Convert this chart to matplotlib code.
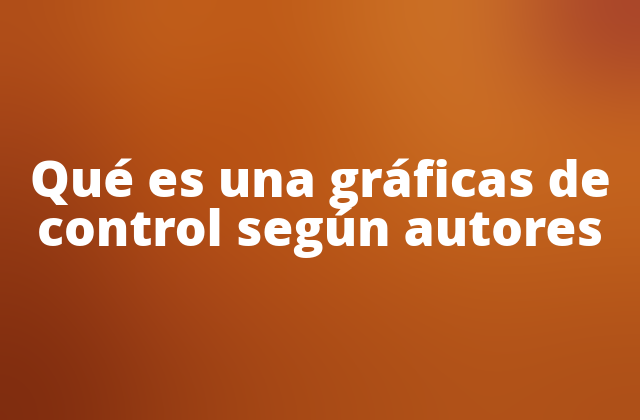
import numpy as np
import matplotlib.pyplot as plt
from matplotlib.colors import to_rgb

# title lines shown over the picture
title_lines = ['Qué es una gráficas de', 'control según autores']

# rough colour field of the painted background (rows top -> bottom)
bg_colors = [
    ['#b04e18', '#c4621c', '#bd5716', '#c96c22', '#cf7428', '#a8442a'],
    ['#a44318', '#bb5515', '#b85013', '#c2621c', '#cf7226', '#c6641f'],
    ['#953b14', '#b24d14', '#b95416', '#c05e19', '#c5651d', '#c2621d'],
    ['#8a3311', '#a44318', '#ae4c17', '#b55318', '#b9591a', '#b7571a'],
    ['#7f2c0f', '#963c13', '#a54715', '#ac4e17', '#b25319', '#ae5018'],
]

fig = plt.figure(figsize=(6.4, 4.2), dpi=100)
ax = fig.add_axes([0, 0, 1, 1])
ax.set_xlim(0, 1)
ax.set_ylim(0, 1)
ax.axis('off')

img = np.array([[to_rgb(c) for c in row] for row in bg_colors])
ax.imshow(img, extent=[0, 1, 0, 1], aspect='auto', interpolation='bicubic')

# baselines of the two lines
ys = [0.531, 0.414]
for line, y in zip(title_lines, ys):
    ax.text(0.5, y, line, ha='center', va='baseline', color='white',
            fontsize=36, fontweight='heavy', family=['Open Sans', 'DejaVu Sans'])

fig.savefig('out.png', dpi=100)
